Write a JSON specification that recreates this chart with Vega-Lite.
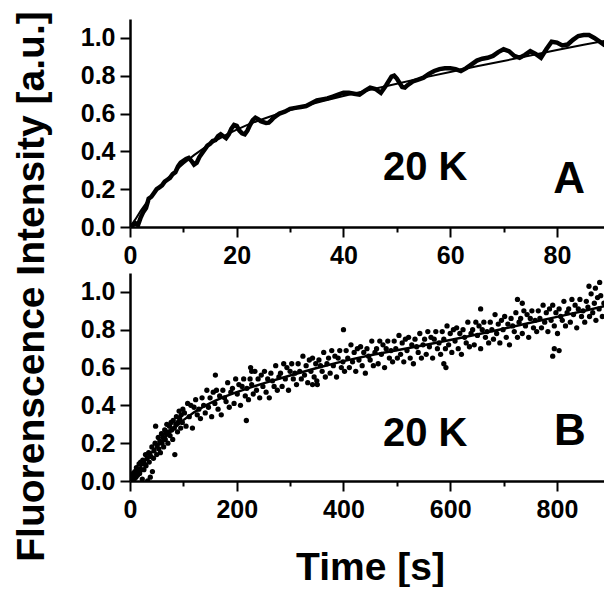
{
"$schema": "https://vega.github.io/schema/vega-lite/v6.json",
"background": "white",
"padding": {"left": 11, "top": 10, "right": 0, "bottom": 0},
"bounds": "flush",
"spacing": 46,
"config": {
  "view": {"stroke": null},
  "font": "Liberation Sans",
  "axis": {"grid": false, "domainColor": "black", "domainWidth": 2.5, "tickColor": "black", "tickWidth": 2, "labelFont": "Liberation Sans", "labelFontSize": 25, "labelFontWeight": "bold", "labelColor": "black", "titleFont": "Liberation Sans", "titleFontSize": 39, "titleFontWeight": "bold", "titleColor": "black", "labelOverlap": false, "labelFlush": false, "labelBound": false}
},
"datasets": {
  "a": [{"t":0,"v":0.0},{"t":0.5,"v":0.01},{"t":1,"v":0.02},{"t":1.5,"v":0.01},{"t":2,"v":0.05},{"t":2.5,"v":0.08},{"t":3,"v":0.1},{"t":3.5,"v":0.15},{"t":4,"v":0.16},{"t":4.5,"v":0.18},{"t":5,"v":0.2},{"t":5.5,"v":0.21},{"t":6,"v":0.22},{"t":6.5,"v":0.24},{"t":7,"v":0.25},{"t":7.5,"v":0.26},{"t":8,"v":0.28},{"t":8.5,"v":0.29},{"t":9,"v":0.32},{"t":9.5,"v":0.34},{"t":10,"v":0.35},{"t":10.5,"v":0.36},{"t":11,"v":0.365},{"t":11.5,"v":0.35},{"t":12,"v":0.33},{"t":12.5,"v":0.34},{"t":13,"v":0.37},{"t":13.5,"v":0.39},{"t":14,"v":0.41},{"t":14.5,"v":0.43},{"t":15,"v":0.44},{"t":15.5,"v":0.455},{"t":16,"v":0.46},{"t":16.5,"v":0.48},{"t":17,"v":0.49},{"t":17.5,"v":0.48},{"t":18,"v":0.47},{"t":18.5,"v":0.49},{"t":19,"v":0.52},{"t":19.5,"v":0.54},{"t":20,"v":0.535},{"t":20.5,"v":0.51},{"t":21,"v":0.495},{"t":21.5,"v":0.49},{"t":22,"v":0.51},{"t":22.5,"v":0.54},{"t":23,"v":0.565},{"t":23.5,"v":0.578},{"t":24,"v":0.57},{"t":24.5,"v":0.56},{"t":25,"v":0.555},{"t":25.5,"v":0.55},{"t":26,"v":0.552},{"t":26.5,"v":0.565},{"t":27,"v":0.58},{"t":27.5,"v":0.59},{"t":28,"v":0.6},{"t":28.5,"v":0.605},{"t":29,"v":0.61},{"t":30,"v":0.625},{"t":31,"v":0.63},{"t":32,"v":0.635},{"t":33,"v":0.64},{"t":34,"v":0.655},{"t":35,"v":0.67},{"t":36,"v":0.675},{"t":37,"v":0.68},{"t":38,"v":0.69},{"t":39,"v":0.7},{"t":40,"v":0.71},{"t":41,"v":0.71},{"t":42,"v":0.705},{"t":43,"v":0.7},{"t":44,"v":0.72},{"t":45,"v":0.737},{"t":46,"v":0.73},{"t":47,"v":0.71},{"t":48,"v":0.75},{"t":49,"v":0.795},{"t":49.5,"v":0.8},{"t":50,"v":0.785},{"t":51,"v":0.74},{"t":51.5,"v":0.737},{"t":52,"v":0.75},{"t":53,"v":0.77},{"t":54,"v":0.78},{"t":55,"v":0.79},{"t":56,"v":0.81},{"t":57,"v":0.825},{"t":58,"v":0.835},{"t":59,"v":0.84},{"t":60,"v":0.84},{"t":61,"v":0.835},{"t":62,"v":0.825},{"t":63,"v":0.84},{"t":64,"v":0.86},{"t":65,"v":0.88},{"t":66,"v":0.89},{"t":67,"v":0.895},{"t":68,"v":0.905},{"t":69,"v":0.925},{"t":70,"v":0.94},{"t":71,"v":0.93},{"t":72,"v":0.905},{"t":73,"v":0.895},{"t":74,"v":0.91},{"t":75,"v":0.93},{"t":76,"v":0.915},{"t":77,"v":0.895},{"t":78,"v":0.94},{"t":79,"v":0.98},{"t":80,"v":0.975},{"t":81,"v":0.96},{"t":82,"v":0.965},{"t":83,"v":0.99},{"t":84,"v":1.01},{"t":85,"v":1.015},{"t":86,"v":1.015},{"t":87,"v":1.0},{"t":88,"v":0.98},{"t":89,"v":0.96}],
  "afit": [{"t":0,"v":0},{"t":1,"v":0.04},{"t":2,"v":0.085},{"t":3,"v":0.125},{"t":4,"v":0.16},{"t":5,"v":0.195},{"t":6,"v":0.225},{"t":8,"v":0.285},{"t":10,"v":0.335},{"t":12,"v":0.38},{"t":14,"v":0.42},{"t":16,"v":0.455},{"t":18,"v":0.487},{"t":20,"v":0.515},{"t":22,"v":0.54},{"t":24,"v":0.562},{"t":26,"v":0.582},{"t":28,"v":0.6},{"t":30,"v":0.618},{"t":33,"v":0.642},{"t":36,"v":0.665},{"t":40,"v":0.693},{"t":45,"v":0.726},{"t":50,"v":0.758},{"t":55,"v":0.79},{"t":60,"v":0.82},{"t":65,"v":0.85},{"t":70,"v":0.878},{"t":75,"v":0.907},{"t":80,"v":0.936},{"t":85,"v":0.964},{"t":89,"v":0.985}],
  "b": [{"t":0,"v":0.01},{"t":2,"v":0.03},{"t":3,"v":0.0},{"t":5,"v":0.0},{"t":6,"v":0.04},{"t":8,"v":0.01},{"t":9,"v":0.05},{"t":11,"v":0.02},{"t":12,"v":0.07},{"t":14,"v":0.03},{"t":15,"v":0.05},{"t":17,"v":0.09},{"t":18,"v":0.04},{"t":20,"v":0.1},{"t":21,"v":0.06},{"t":23,"v":0.01},{"t":24,"v":0.11},{"t":26,"v":0.06},{"t":27,"v":0.09},{"t":29,"v":0.14},{"t":30,"v":0.08},{"t":32,"v":0.12},{"t":33,"v":0.0},{"t":35,"v":0.15},{"t":36,"v":0.1},{"t":38,"v":0.02},{"t":39,"v":0.13},{"t":41,"v":0.18},{"t":42,"v":0.05},{"t":44,"v":0.12},{"t":45,"v":0.16},{"t":47,"v":0.2},{"t":48,"v":0.29},{"t":50,"v":0.14},{"t":51,"v":0.19},{"t":53,"v":0.23},{"t":54,"v":0.17},{"t":56,"v":0.21},{"t":57,"v":0.15},{"t":59,"v":0.25},{"t":60,"v":0.2},{"t":62,"v":0.23},{"t":63,"v":0.18},{"t":65,"v":0.27},{"t":66,"v":0.22},{"t":68,"v":0.25},{"t":69,"v":0.3},{"t":71,"v":0.2},{"t":72,"v":0.26},{"t":74,"v":0.29},{"t":75,"v":0.24},{"t":77,"v":0.31},{"t":78,"v":0.27},{"t":80,"v":0.22},{"t":81,"v":0.32},{"t":83,"v":0.28},{"t":84,"v":0.14},{"t":86,"v":0.3},{"t":87,"v":0.34},{"t":89,"v":0.26},{"t":90,"v":0.31},{"t":92,"v":0.37},{"t":93,"v":0.33},{"t":95,"v":0.28},{"t":96,"v":0.35},{"t":98,"v":0.31},{"t":99,"v":0.38},
  {"t":102,"v":0.36},{"t":105,"v":0.29},{"t":108,"v":0.41},{"t":111,"v":0.34},{"t":114,"v":0.4},{"t":117,"v":0.28},{"t":120,"v":0.39},{"t":123,"v":0.43},{"t":126,"v":0.35},{"t":129,"v":0.38},{"t":132,"v":0.33},{"t":135,"v":0.44},{"t":138,"v":0.4},{"t":141,"v":0.36},{"t":144,"v":0.48},{"t":147,"v":0.39},{"t":150,"v":0.44},{"t":153,"v":0.34},{"t":156,"v":0.47},{"t":159,"v":0.41},{"t":160,"v":0.56},{"t":162,"v":0.48},{"t":165,"v":0.38},{"t":168,"v":0.45},{"t":171,"v":0.35},{"t":174,"v":0.48},{"t":177,"v":0.44},{"t":180,"v":0.42},{"t":183,"v":0.52},{"t":186,"v":0.39},{"t":189,"v":0.47},{"t":192,"v":0.49},{"t":195,"v":0.41},{"t":198,"v":0.54},{"t":201,"v":0.46},{"t":204,"v":0.51},{"t":207,"v":0.4},{"t":210,"v":0.5},{"t":213,"v":0.54},{"t":216,"v":0.45},{"t":218,"v":0.32},{"t":219,"v":0.49},{"t":222,"v":0.43},{"t":225,"v":0.54},{"t":226,"v":0.6},{"t":228,"v":0.51},{"t":228,"v":0.58},{"t":231,"v":0.46},{"t":234,"v":0.58},{"t":237,"v":0.48},{"t":240,"v":0.54},{"t":243,"v":0.44},{"t":246,"v":0.56},{"t":249,"v":0.5},{"t":252,"v":0.58},{"t":255,"v":0.47},{"t":258,"v":0.54},{"t":261,"v":0.44},{"t":264,"v":0.57},{"t":267,"v":0.53},{"t":270,"v":0.5},{"t":273,"v":0.61},{"t":276,"v":0.48},{"t":279,"v":0.55},{"t":282,"v":0.57},{"t":285,"v":0.5},{"t":288,"v":0.62},{"t":291,"v":0.54},{"t":294,"v":0.6},{"t":297,"v":0.48},{"t":300,"v":0.58},
  {"t":303,"v":0.62},{"t":306,"v":0.54},{"t":309,"v":0.57},{"t":312,"v":0.51},{"t":315,"v":0.62},{"t":318,"v":0.58},{"t":321,"v":0.54},{"t":324,"v":0.66},{"t":327,"v":0.56},{"t":330,"v":0.61},{"t":333,"v":0.52},{"t":336,"v":0.64},{"t":339,"v":0.58},{"t":342,"v":0.65},{"t":342,"v":0.51},{"t":345,"v":0.55},{"t":348,"v":0.62},{"t":350,"v":0.53},{"t":351,"v":0.51},{"t":354,"v":0.64},{"t":357,"v":0.61},{"t":360,"v":0.58},{"t":363,"v":0.68},{"t":366,"v":0.55},{"t":369,"v":0.62},{"t":372,"v":0.65},{"t":375,"v":0.57},{"t":378,"v":0.69},{"t":381,"v":0.61},{"t":384,"v":0.66},{"t":387,"v":0.55},{"t":390,"v":0.65},{"t":393,"v":0.69},{"t":396,"v":0.6},{"t":399,"v":0.63},{"t":400,"v":0.8},{"t":402,"v":0.58},{"t":405,"v":0.69},{"t":408,"v":0.65},{"t":411,"v":0.6},{"t":414,"v":0.72},{"t":417,"v":0.63},{"t":420,"v":0.68},{"t":423,"v":0.58},{"t":426,"v":0.7},{"t":429,"v":0.64},{"t":432,"v":0.71},{"t":435,"v":0.61},{"t":438,"v":0.68},{"t":441,"v":0.57},{"t":444,"v":0.7},{"t":447,"v":0.66},{"t":450,"v":0.64},{"t":453,"v":0.74},{"t":456,"v":0.61},{"t":459,"v":0.68},{"t":462,"v":0.7},{"t":465,"v":0.62},{"t":468,"v":0.74},{"t":471,"v":0.67},{"t":474,"v":0.72},{"t":477,"v":0.6},{"t":480,"v":0.7},{"t":483,"v":0.74},{"t":486,"v":0.65},{"t":489,"v":0.69},{"t":492,"v":0.63},{"t":495,"v":0.74},{"t":498,"v":0.7},
  {"t":501,"v":0.65},{"t":504,"v":0.77},{"t":507,"v":0.67},{"t":510,"v":0.73},{"t":513,"v":0.63},{"t":516,"v":0.75},{"t":519,"v":0.69},{"t":522,"v":0.76},{"t":525,"v":0.65},{"t":528,"v":0.72},{"t":531,"v":0.62},{"t":534,"v":0.75},{"t":537,"v":0.71},{"t":540,"v":0.68},{"t":543,"v":0.78},{"t":546,"v":0.65},{"t":549,"v":0.72},{"t":552,"v":0.75},{"t":555,"v":0.67},{"t":558,"v":0.79},{"t":561,"v":0.71},{"t":564,"v":0.76},{"t":567,"v":0.65},{"t":570,"v":0.75},{"t":573,"v":0.79},{"t":576,"v":0.7},{"t":579,"v":0.73},{"t":582,"v":0.67},{"t":585,"v":0.79},{"t":588,"v":0.75},{"t":588,"v":0.62},{"t":591,"v":0.7},{"t":592,"v":0.6},{"t":594,"v":0.82},{"t":597,"v":0.72},{"t":600,"v":0.78},{"t":603,"v":0.68},{"t":606,"v":0.8},{"t":609,"v":0.74},{"t":612,"v":0.81},{"t":615,"v":0.7},{"t":618,"v":0.78},{"t":621,"v":0.67},{"t":624,"v":0.8},{"t":627,"v":0.76},{"t":630,"v":0.73},{"t":633,"v":0.84},{"t":636,"v":0.71},{"t":639,"v":0.78},{"t":642,"v":0.8},{"t":645,"v":0.72},{"t":648,"v":0.84},{"t":651,"v":0.77},{"t":654,"v":0.82},{"t":657,"v":0.7},{"t":657,"v":0.91},{"t":660,"v":0.8},{"t":663,"v":0.84},{"t":666,"v":0.76},{"t":669,"v":0.79},{"t":672,"v":0.73},{"t":675,"v":0.84},{"t":678,"v":0.8},{"t":681,"v":0.75},{"t":684,"v":0.88},{"t":687,"v":0.78},{"t":690,"v":0.83},{"t":693,"v":0.73},{"t":696,"v":0.85},{"t":699,"v":0.8},
  {"t":702,"v":0.87},{"t":705,"v":0.76},{"t":708,"v":0.83},{"t":711,"v":0.72},{"t":714,"v":0.86},{"t":717,"v":0.82},{"t":720,"v":0.79},{"t":723,"v":0.89},{"t":726,"v":0.76},{"t":726,"v":0.96},{"t":729,"v":0.84},{"t":732,"v":0.86},{"t":735,"v":0.78},{"t":735,"v":0.94},{"t":738,"v":0.9},{"t":741,"v":0.82},{"t":744,"v":0.88},{"t":747,"v":0.76},{"t":750,"v":0.86},{"t":753,"v":0.9},{"t":756,"v":0.81},{"t":759,"v":0.85},{"t":762,"v":0.79},{"t":765,"v":0.9},{"t":768,"v":0.86},{"t":771,"v":0.81},{"t":774,"v":0.93},{"t":777,"v":0.84},{"t":780,"v":0.89},{"t":783,"v":0.79},{"t":786,"v":0.91},{"t":789,"v":0.85},{"t":792,"v":0.93},{"t":792,"v":0.66},{"t":795,"v":0.82},{"t":795,"v":0.7},{"t":798,"v":0.89},{"t":801,"v":0.78},{"t":804,"v":0.91},{"t":804,"v":0.69},{"t":807,"v":0.87},{"t":810,"v":0.85},{"t":813,"v":0.95},{"t":816,"v":0.82},{"t":819,"v":0.89},{"t":822,"v":0.91},{"t":825,"v":0.84},{"t":828,"v":0.96},{"t":831,"v":0.88},{"t":834,"v":0.93},{"t":837,"v":0.81},{"t":840,"v":0.91},{"t":843,"v":0.96},{"t":846,"v":0.87},{"t":849,"v":0.9},{"t":852,"v":0.84},{"t":855,"v":0.95},{"t":858,"v":0.92},{"t":860,"v":1.03},{"t":861,"v":0.87},{"t":864,"v":0.99},{"t":867,"v":0.89},{"t":870,"v":0.94},{"t":872,"v":1.02},{"t":873,"v":0.85},{"t":876,"v":0.97},{"t":879,"v":0.91},{"t":880,"v":1.05},{"t":882,"v":0.98},{"t":885,"v":0.87},{"t":888,"v":0.94}],
  "bfit": [{"t":0,"v":0},{"t":20,"v":0.075},{"t":40,"v":0.148},{"t":60,"v":0.213},{"t":80,"v":0.272},{"t":100,"v":0.322},{"t":120,"v":0.363},{"t":140,"v":0.397},{"t":160,"v":0.425},{"t":180,"v":0.449},{"t":200,"v":0.47},{"t":225,"v":0.494},{"t":250,"v":0.516},{"t":300,"v":0.558},{"t":350,"v":0.598},{"t":400,"v":0.634},{"t":450,"v":0.665},{"t":500,"v":0.692},{"t":550,"v":0.718},{"t":600,"v":0.746},{"t":650,"v":0.775},{"t":700,"v":0.805},{"t":750,"v":0.837},{"t":800,"v":0.868},{"t":850,"v":0.899},{"t":890,"v":0.925}],
  "alabels": [{"kind":"temp","label":"20 K","t":55.3,"v":0.249},{"kind":"panel","label":"A","t":82.3,"v":0.18}],
  "blabels": [{"kind":"temp","label":"20 K","t":553,"v":0.187},{"kind":"panel","label":"B","t":824,"v":0.193}]
},
"vconcat": [
  {
    "width": 475, "height": 208,
    "layer": [
      {"data": {"name": "a"}, "mark": {"type": "line", "color": "black", "strokeWidth": 4.5, "clip": true},
       "encoding": {
         "x": {"field": "t", "type": "quantitative", "scale": {"domain": [0, 89], "nice": false},
               "axis": {"title": null, "values": [0,10,20,30,40,50,60,70,80], "labelPadding": 6,
                        "labelExpr": "datum.value % 20 === 0 ? datum.label : ''",
                        "tickSize": {"condition": {"test": "datum.value % 20 === 0", "value": 10}, "value": 5}}},
         "y": {"field": "v", "type": "quantitative", "scale": {"domain": [0, 1.1], "nice": false},
               "axis": {"title": "Fluorenscence Intensity [a.u.]", "titleX": -79, "titleY": 267, "format": ".1f",
                        "values": [0,0.1,0.2,0.3,0.4,0.5,0.6,0.7,0.8,0.9,1.0], "labelPadding": 5,
                        "labelExpr": "round(datum.value*10) % 2 === 0 ? datum.label : ''",
                        "tickSize": {"condition": {"test": "round(datum.value*10) % 2 === 0", "value": 10}, "value": 5}}}
       }},
      {"data": {"name": "afit"}, "mark": {"type": "line", "color": "black", "strokeWidth": 2, "clip": true},
       "encoding": {"x": {"field": "t", "type": "quantitative"}, "y": {"field": "v", "type": "quantitative"}}},
      {"data": {"name": "alabels"}, "transform": [{"filter": "datum.kind === 'temp'"}],
       "mark": {"type": "text", "font": "Liberation Sans", "fontWeight": "bold", "fontSize": 40, "align": "center", "baseline": "alphabetic", "color": "black"},
       "encoding": {"x": {"field": "t", "type": "quantitative"}, "y": {"field": "v", "type": "quantitative"}, "text": {"field": "label"}}},
      {"data": {"name": "alabels"}, "transform": [{"filter": "datum.kind === 'panel'"}],
       "mark": {"type": "text", "font": "Liberation Sans", "fontWeight": "bold", "fontSize": 44, "align": "center", "baseline": "alphabetic", "color": "black"},
       "encoding": {"x": {"field": "t", "type": "quantitative"}, "y": {"field": "v", "type": "quantitative"}, "text": {"field": "label"}}}
    ]
  },
  {
    "width": 475, "height": 208,
    "layer": [
      {"data": {"name": "b"}, "mark": {"type": "circle", "color": "black", "opacity": 1, "size": 28, "clip": true},
       "encoding": {
         "x": {"field": "t", "type": "quantitative", "scale": {"domain": [0, 890], "nice": false},
               "axis": {"title": "Time [s]", "titleX": 240, "titleY": 67, "values": [0,100,200,300,400,500,600,700,800], "labelPadding": 6,
                        "labelExpr": "datum.value % 200 === 0 ? datum.label : ''",
                        "tickSize": {"condition": {"test": "datum.value % 200 === 0", "value": 10}, "value": 5}}},
         "y": {"field": "v", "type": "quantitative", "scale": {"domain": [0, 1.1], "nice": false},
               "axis": {"title": null, "format": ".1f",
                        "values": [0,0.1,0.2,0.3,0.4,0.5,0.6,0.7,0.8,0.9,1.0], "labelPadding": 5,
                        "labelExpr": "round(datum.value*10) % 2 === 0 ? datum.label : ''",
                        "tickSize": {"condition": {"test": "round(datum.value*10) % 2 === 0", "value": 10}, "value": 5}}}
       }},
      {"data": {"name": "bfit"}, "mark": {"type": "line", "color": "black", "strokeWidth": 2.5, "clip": true},
       "encoding": {"x": {"field": "t", "type": "quantitative"}, "y": {"field": "v", "type": "quantitative"}}},
      {"data": {"name": "blabels"}, "transform": [{"filter": "datum.kind === 'temp'"}],
       "mark": {"type": "text", "font": "Liberation Sans", "fontWeight": "bold", "fontSize": 40, "align": "center", "baseline": "alphabetic", "color": "black"},
       "encoding": {"x": {"field": "t", "type": "quantitative"}, "y": {"field": "v", "type": "quantitative"}, "text": {"field": "label"}}},
      {"data": {"name": "blabels"}, "transform": [{"filter": "datum.kind === 'panel'"}],
       "mark": {"type": "text", "font": "Liberation Sans", "fontWeight": "bold", "fontSize": 44, "align": "center", "baseline": "alphabetic", "color": "black"},
       "encoding": {"x": {"field": "t", "type": "quantitative"}, "y": {"field": "v", "type": "quantitative"}, "text": {"field": "label"}}}
    ]
  }
]
}
